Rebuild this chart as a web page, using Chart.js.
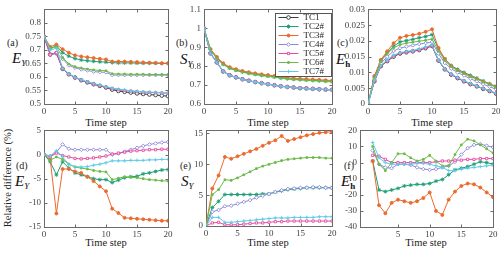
<!DOCTYPE html>
<html>
<head>
<meta charset="utf-8">
<script src="https://cdn.jsdelivr.net/npm/chart.js@4.4.0/dist/chart.umd.min.js"></script>
<style>
  body { margin:0; width:500px; height:253px; background:#fff; position:relative; overflow:hidden;
         font-family:"Liberation Serif","DejaVu Serif",serif; }
  canvas { position:absolute; }
  .tag { position:absolute; font-size:10px; line-height:1; color:#222; white-space:nowrap; }
  .sym { position:absolute; font-size:15px; line-height:1; color:#111; white-space:nowrap; }
  .sym sub { font-size:9px; vertical-align:-3px; }
  .xt { position:absolute; font-size:10.5px; line-height:1; color:#222; white-space:nowrap; transform:translateX(-50%); }
  .yt { position:absolute; font-size:10.5px; line-height:1; color:#222; white-space:nowrap;
        transform:translate(-50%,-50%) rotate(-90deg); }
</style>
</head>
<body>

<div class="tag" style="left:7px;top:38px">(a)</div>
<div class="sym" style="left:12px;top:51px"><i>E</i><sub><i>Y</i></sub></div>
<div class="tag" style="left:176px;top:38px">(b)</div>
<div class="sym" style="left:180px;top:52px"><i>S</i><sub><i>Y</i></sub></div>
<div class="tag" style="left:337px;top:38px">(c)</div>
<div class="sym" style="left:336px;top:52px"><i>E</i><sub><b>h</b></sub></div>

<div class="tag" style="left:16px;top:161px">(d)</div>
<div class="sym" style="left:15px;top:174px"><i>E</i><sub><i>Y</i></sub></div>
<div class="tag" style="left:180px;top:161px">(e)</div>
<div class="sym" style="left:181px;top:174px"><i>S</i><sub><i>Y</i></sub></div>
<div class="tag" style="left:344px;top:161px">(f)</div>
<div class="sym" style="left:341px;top:174px"><i>E</i><sub><b>h</b></sub></div>

<div class="yt" style="left:8px;top:178px">Relative difference (%)</div>

<div class="xt" style="left:106px;top:118px">Time step</div>
<div class="xt" style="left:268px;top:118px">Time step</div>
<div class="xt" style="left:432px;top:118px">Time step</div>
<div class="xt" style="left:106px;top:238px">Time step</div>
<div class="xt" style="left:268px;top:238px">Time step</div>
<div class="xt" style="left:426px;top:238px">Time step</div>

<canvas id="cA"></canvas>
<canvas id="cB"></canvas>
<canvas id="cC"></canvas>
<canvas id="cD"></canvas>
<canvas id="cE"></canvas>
<canvas id="cF"></canvas>

<script>
// x values
var steps  = [0,1,2,3,4,5,6,7,8,9,10,11,12,13,14,15,16,17,18,19,20];
var stepsF = [1,2,3,4,5,6,7,8,9,10,11,12,13,14,15,16,17,18,19,20];
var names  = ['TC1','TC2#','TC3#','TC4#','TC5#','TC6#','TC7#'];

// (a) E_Y
var eyAbs = [
  [0.75,0.683,0.688,0.630,0.610,0.598,0.588,0.580,0.573,0.567,0.561,0.553,0.548,0.545,0.542,0.539,0.537,0.535,0.533,0.531,0.529],
  [0.75,0.705,0.715,0.690,0.677,0.668,0.663,0.660,0.658,0.656,0.655,0.653,0.652,0.652,0.652,0.651,0.651,0.651,0.651,0.650,0.650],
  [0.75,0.712,0.720,0.703,0.690,0.680,0.676,0.673,0.670,0.667,0.665,0.657,0.657,0.657,0.656,0.655,0.654,0.653,0.652,0.651,0.651],
  [0.75,0.683,0.688,0.667,0.643,0.634,0.628,0.624,0.620,0.618,0.617,0.607,0.607,0.607,0.607,0.607,0.607,0.607,0.607,0.607,0.607],
  [0.75,0.682,0.690,0.630,0.611,0.598,0.589,0.581,0.574,0.568,0.562,0.557,0.553,0.550,0.548,0.546,0.544,0.543,0.542,0.541,0.540],
  [0.75,0.706,0.712,0.672,0.648,0.638,0.633,0.629,0.626,0.624,0.623,0.612,0.611,0.611,0.610,0.610,0.610,0.609,0.609,0.609,0.609],
  [0.75,0.700,0.706,0.632,0.612,0.599,0.590,0.582,0.576,0.570,0.564,0.559,0.555,0.552,0.549,0.547,0.545,0.544,0.543,0.542,0.541]
];
// (b) S_Y
var syAbs = [
  [1.0,0.868,0.820,0.772,0.752,0.741,0.731,0.723,0.716,0.710,0.705,0.699,0.694,0.690,0.687,0.684,0.682,0.680,0.678,0.676,0.675],
  [1.0,0.887,0.843,0.810,0.790,0.779,0.770,0.763,0.757,0.752,0.748,0.743,0.738,0.734,0.731,0.729,0.727,0.725,0.723,0.721,0.719],
  [1.0,0.891,0.849,0.815,0.795,0.784,0.775,0.768,0.762,0.757,0.753,0.748,0.743,0.739,0.736,0.734,0.732,0.730,0.728,0.726,0.724],
  [1.0,0.867,0.819,0.771,0.751,0.740,0.730,0.722,0.715,0.709,0.704,0.698,0.693,0.689,0.686,0.683,0.681,0.679,0.677,0.675,0.674],
  [1.0,0.869,0.821,0.773,0.753,0.742,0.732,0.724,0.717,0.711,0.706,0.700,0.695,0.691,0.688,0.685,0.683,0.681,0.679,0.677,0.676],
  [1.0,0.885,0.841,0.808,0.788,0.777,0.768,0.761,0.755,0.750,0.746,0.741,0.736,0.732,0.729,0.727,0.725,0.723,0.721,0.719,0.717],
  [1.0,0.868,0.820,0.772,0.752,0.741,0.731,0.723,0.716,0.710,0.705,0.699,0.694,0.690,0.687,0.684,0.682,0.680,0.678,0.676,0.675]
];
// (c) E_h
var ehAbs = [
  [0,0.0072,0.0120,0.0136,0.0150,0.0160,0.0164,0.0167,0.0171,0.0177,0.0184,0.0138,0.0110,0.0093,0.0082,0.0072,0.0063,0.0056,0.0048,0.0041,0.0033],
  [0,0.0085,0.0138,0.0163,0.0183,0.0197,0.0201,0.0205,0.0210,0.0214,0.0220,0.0175,0.0143,0.0122,0.0110,0.0100,0.0091,0.0082,0.0073,0.0064,0.0056],
  [0,0.0089,0.0140,0.0167,0.0193,0.0210,0.0216,0.0219,0.0223,0.0229,0.0237,0.0178,0.0143,0.0120,0.0107,0.0097,0.0088,0.0080,0.0071,0.0063,0.0054],
  [0,0.0078,0.0128,0.0150,0.0168,0.0177,0.0182,0.0186,0.0190,0.0193,0.0197,0.0160,0.0130,0.0112,0.0100,0.0090,0.0080,0.0072,0.0063,0.0055,0.0047],
  [0,0.0073,0.0121,0.0137,0.0152,0.0161,0.0165,0.0168,0.0172,0.0178,0.0185,0.0139,0.0111,0.0094,0.0083,0.0073,0.0064,0.0057,0.0049,0.0042,0.0034],
  [0,0.0082,0.0135,0.0160,0.0178,0.0188,0.0193,0.0196,0.0199,0.0202,0.0206,0.0168,0.0138,0.0118,0.0106,0.0096,0.0087,0.0079,0.0070,0.0062,0.0053],
  [0,0.0075,0.0122,0.0140,0.0155,0.0163,0.0167,0.0170,0.0175,0.0181,0.0188,0.0140,0.0112,0.0095,0.0084,0.0074,0.0065,0.0057,0.0049,0.0042,0.0034]
];
// (d) E_Y relative difference, TC2#..TC7#
var eyRel = [
  [0,-1.5,-4.2,-1.5,-2.8,-3.8,-4.2,-4.6,-5.0,-5.2,-5.2,-5.8,-5.3,-4.8,-4.6,-4.5,-4.0,-3.8,-3.5,-3.2,-3.1],
  [0,-1.0,-12.2,-3.0,-3.0,-3.5,-3.8,-4.6,-5.5,-6.6,-7.6,-11.2,-12.1,-13.1,-13.2,-13.3,-13.4,-13.5,-13.6,-13.7,-13.7],
  [0,-0.3,0.5,2.1,1.2,1.0,1.0,1.0,1.0,1.0,1.0,0.0,0.2,0.6,1.0,1.4,1.8,2.1,2.3,2.5,2.6],
  [0,-0.5,0.3,-0.2,-0.5,-0.8,-0.9,-0.8,-0.7,-0.5,-0.3,0.1,0.3,0.5,0.7,0.8,0.9,1.0,1.0,1.1,1.1],
  [0,-1.2,-0.5,-1.0,-2.0,-2.6,-2.8,-3.0,-3.3,-3.5,-3.6,-5.2,-4.9,-4.6,-4.7,-4.8,-5.0,-5.2,-5.3,-5.4,-5.5],
  [0,-0.3,0.8,-0.5,-2.0,-2.5,-2.6,-2.5,-2.2,-2.0,-1.7,-1.3,-1.3,-1.3,-1.2,-1.2,-1.2,-1.1,-1.1,-1.0,-1.0]
];
// (e) S_Y relative difference
var syRel = [
  [0,3.0,4.0,5.1,5.1,5.1,5.1,5.1,5.1,5.2,5.2,5.5,5.7,5.9,6.0,6.1,6.2,6.2,6.2,6.2,6.2],
  [0,6.1,8.2,11.2,10.9,11.3,11.7,12.1,12.5,13.0,13.5,13.9,14.6,13.8,14.1,14.4,14.7,14.9,15.1,15.2,15.3],
  [0,2.3,2.6,3.2,3.3,3.6,3.9,4.2,4.6,4.9,5.2,5.5,5.8,6.0,6.1,6.2,6.2,6.3,6.3,6.2,6.2],
  [0,0.5,0.6,0.2,0.2,0.2,0.3,0.4,0.5,0.5,0.6,0.7,0.7,0.8,0.8,0.8,0.8,0.8,0.8,0.8,0.8],
  [0,5.1,5.9,7.5,7.4,7.8,8.3,8.8,9.3,9.7,10.0,10.3,10.6,10.8,10.9,11.0,11.1,11.1,11.1,11.0,11.0],
  [0,1.4,1.4,0.6,0.6,0.7,0.8,0.9,1.0,1.1,1.2,1.3,1.3,1.3,1.4,1.4,1.4,1.4,1.5,1.5,1.5]
];
// (f) E_h relative difference, from step 1
var ehRel = [
  [1,-17,-18,-17,-16,-14.5,-14,-13.5,-13.5,-13,-11.5,-10.5,-7.5,-4.5,-3.5,-2.5,-1,0.5,0,-1],
  [1,-26.5,-31.5,-25,-23,-24,-25,-24,-22,-18.5,-30,-32.5,-23,-18,-14.5,-13,-13.5,-15.5,-18.5,-21.5],
  [7.5,-1,-3,-3.5,-1,-1,-1.5,-3,-4,-4.5,-4,-3,-2,0.5,5,9,11,11.5,10.5,9.5],
  [4.5,4,2,0,0,0,0,0,0,0,0.5,1,1,1.5,1.5,2,2,2.5,2.5,2.5],
  [10,-1,-5,0,5.5,5.5,3,1,2,4.5,1,-2,-2,5,11,14.5,13.5,11,8.5,6],
  [12.5,3,0,-1,-1,-1,-1,-0.5,-0.5,-1,-2,-3,-5,-5,-4,-3.5,-3,-2.5,-2,-1.5]
];

// tick labels
var ticksA = [0.5,0.55,0.6,0.65,0.7,0.75,0.8];
var ticksB = [0.6,0.7,0.8,0.9,1,1.1];
var ticksC = [0,0.005,0.01,0.015,0.02,0.025,0.03];
var ticksD = [-15,-10,-5,0,5];
var ticksE = [0,5,10,15];
var ticksF = [-40,-30,-20,-10,0,10,20];
var xTicks = [0,5,10,15,20];
var xTicksF = [5,10,15,20];

var colors = ['#3a3a3a','#1f9e78','#ec6a2e','#8c8ad8','#e64ea2','#6cbb48','#5ccbe8'];
var marks  = ['circle','star','circle','rectRot','rect','rect','cross'];
var fills  = ['#ffffff',null,null,'#ffffff','#ffffff',null,null];
var sizes  = [1.8,2,1.5,1.8,1.6,1.2,1.8];
var FONT = 'Liberation Serif';

// box with inward ticks, like matlab
var boxTicks = {
  id: 'boxTicks',
  beforeDatasetsDraw: function(chart) {
    var ctx = chart.ctx, a = chart.chartArea, x = chart.scales.x, y = chart.scales.y;
    var L = Math.round(a.left)+0.5, R = Math.round(a.right)+0.5, T = Math.round(a.top)+0.5, B = Math.round(a.bottom)+0.5;
    ctx.save();
    ctx.strokeStyle = '#6a6a6a';
    ctx.lineWidth = 1;
    ctx.strokeRect(L, T, R-L, B-T);
    ctx.beginPath();
    x.ticks.forEach(function(t){
      var px = Math.round(x.getPixelForValue(t.value))+0.5;
      ctx.moveTo(px, B); ctx.lineTo(px, B-3);
      ctx.moveTo(px, T); ctx.lineTo(px, T+3);
    });
    y.ticks.forEach(function(t){
      var py = Math.round(y.getPixelForValue(t.value))+0.5;
      ctx.moveTo(L, py); ctx.lineTo(L+3, py);
      ctx.moveTo(R, py); ctx.lineTo(R-3, py);
    });
    ctx.stroke();
    ctx.restore();
  }
};

// legend with line + marker (panel b only)
var lineLegend = {
  id: 'lineLegend',
  afterDraw: function(chart) {
    var ctx = chart.ctx, a = chart.chartArea;
    var w = 56, h = 63, x0 = Math.round(a.right) - w - 0.5, y0 = Math.round(a.top) + 4.5;
    ctx.save();
    ctx.fillStyle = '#fff';
    ctx.fillRect(x0, y0, w, h);
    ctx.strokeStyle = '#555';
    ctx.lineWidth = 1;
    ctx.strokeRect(x0, y0, w, h);
    ctx.font = '9px "' + FONT + '"';
    ctx.textBaseline = 'middle';
    names.forEach(function(n, i){
      var yy = y0 + 4 + i*9;
      ctx.strokeStyle = colors[i];
      ctx.beginPath(); ctx.moveTo(x0+3, yy); ctx.lineTo(x0+23, yy); ctx.stroke();
      ctx.fillStyle = fills[i] || colors[i];
      Chart.helpers.drawPoint(ctx, {pointStyle: marks[i], radius: sizes[i], borderWidth: 1}, x0+13, yy);
      ctx.fillStyle = '#222';
      ctx.fillText(n, x0+28, yy+0.5);
    });
    ctx.restore();
  }
};

function makePanel(id, box, xs, series, first, yMin, yMax, yTicks, xMin, xTk, withLegend) {
  var YW = 36, PT = 6, PR = 7, XH = 16;
  var cv = document.getElementById(id);
  cv.width = box[2] - box[0] + YW + PR;
  cv.height = box[3] - box[1] + PT + XH;
  cv.style.left = (box[0] - YW) + 'px';
  cv.style.top = (box[1] - PT) + 'px';

  var datasets = series.map(function(vals, k){
    var i = first + k;
    return {
      label: names[i],
      data: xs.map(function(x, j){ return {x: x, y: vals[j]}; }),
      borderColor: colors[i],
      backgroundColor: fills[i] || colors[i],
      borderWidth: 1,
      pointStyle: marks[i],
      pointRadius: sizes[i],
      pointBorderWidth: 0.9,
      tension: 0,
      order: 10 - i
    };
  });

  var tickFont = {family: FONT, size: 9};
  return new Chart(cv, {
    type: 'line',
    data: {datasets: datasets},
    plugins: withLegend ? [boxTicks, lineLegend] : [boxTicks],
    options: {
      responsive: false,
      animation: false,
      devicePixelRatio: 1,
      layout: {padding: {top: PT, right: PR, left: 0, bottom: 0}},
      plugins: {legend: {display: false}, tooltip: {enabled: false}},
      scales: {
        x: {
          type: 'linear', min: xMin, max: 20,
          afterBuildTicks: function(s){ s.ticks = xTk.map(function(v){ return {value: v}; }); },
          afterFit: function(s){ s.height = XH; },
          grid: {display: false, drawTicks: false},
          border: {display: false},
          ticks: {font: tickFont, color: '#444', padding: 2, maxRotation: 0, autoSkip: false}
        },
        y: {
          type: 'linear', min: yMin, max: yMax,
          afterBuildTicks: function(s){ s.ticks = yTicks.map(function(v){ return {value: v}; }); },
          afterFit: function(s){ s.width = YW; },
          grid: {display: false, drawTicks: false},
          border: {display: false},
          ticks: {font: tickFont, color: '#444', padding: 3, autoSkip: false,
                  callback: function(v){ return String(+v.toFixed(4)); }}
        }
      }
    }
  });
}

makePanel('cA', [44, 7, 168, 104],  steps,  eyAbs, 0, 0.5, 0.85, ticksA, 0, xTicks, false);
makePanel('cB', [204, 7, 332, 104], steps,  syAbs, 0, 0.6, 1.1,  ticksB, 0, xTicks, true);
makePanel('cC', [368, 7, 496, 104], steps,  ehAbs, 0, 0, 0.03,   ticksC, 0, xTicks, false);
makePanel('cD', [44, 128, 168, 227],  steps,  eyRel, 1, -15, 5,   ticksD, 0, xTicks, false);
makePanel('cE', [206, 128, 332, 226], steps,  syRel, 1, 0, 15.5,  ticksE, 0, xTicks, false);
makePanel('cF', [360, 128, 493, 227], stepsF, ehRel, 1, -40, 20,  ticksF, -1, xTicksF, false);
</script>
</body>
</html>
